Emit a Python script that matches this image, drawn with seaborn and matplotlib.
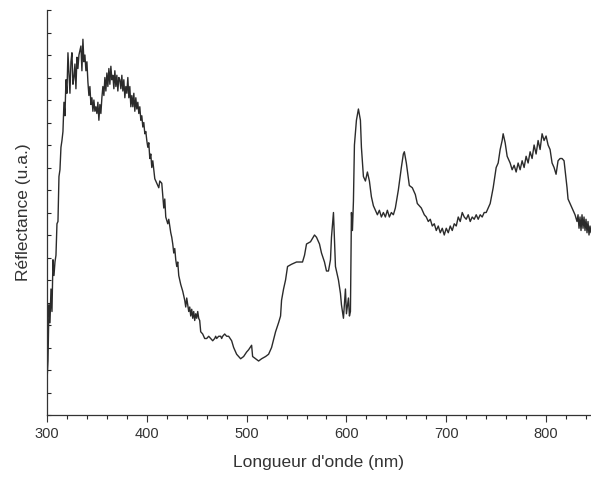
import matplotlib
matplotlib.use("Agg")
import matplotlib.pyplot as plt
from matplotlib.ticker import MultipleLocator, NullFormatter
import seaborn as sns
import pandas as pd

# Spectrum (wavelength in nm, reflectance in arbitrary units)
wavelength = [
    300, 301, 302, 303, 304, 305, 306, 307, 308, 309, 310, 311, 312, 313, 314,
    315, 316, 317, 318, 319, 320, 321, 322, 323, 324, 325, 326, 327, 328, 329,
    330, 331, 332, 333, 334, 335, 336, 337, 338, 339, 340, 341, 342, 343, 344,
    345, 346, 347, 348, 349, 350, 351, 352, 353, 354, 355, 356, 357, 358, 359,
    360, 361, 362, 363, 364, 365, 366, 367, 368, 369, 370, 371, 372, 373, 374,
    375, 376, 377, 378, 379, 380, 381, 382, 383, 384, 385, 386, 387, 388, 389,
    390, 391, 392, 393, 394, 395, 396, 397, 398, 399, 400, 401, 402, 403, 404,
    405, 406, 408, 410, 412, 413, 415, 417, 418, 419, 421, 422, 424, 425, 426,
    427, 428, 429, 430, 431, 432, 434, 436, 438, 439, 440, 441, 442, 443, 444,
    445, 446, 447, 448, 449, 450, 451, 452, 453, 454, 456, 458, 460, 462, 464,
    466, 468, 469, 470, 472, 474, 475, 476, 478, 480, 482, 485, 487, 490, 492,
    494, 497, 500, 502, 505, 506, 509, 512, 515, 519, 522, 525, 529, 532, 534,
    535, 537, 539, 541, 545, 550, 554, 556, 558, 560, 564, 568, 570, 573, 575,
    578, 580, 582, 584, 585, 587, 589, 592, 594, 595, 597, 599, 600, 602, 603,
    604, 605, 606, 607, 608, 610, 612, 614, 615, 617, 619, 621, 623,
    625, 627, 629, 631, 633, 635, 637, 639, 641, 643, 645, 647, 649,
    652, 655, 657, 658, 660, 663, 666, 669, 671, 675, 678,
    680, 682, 684, 686, 688, 690, 692, 694, 696, 698, 700, 702, 704, 706, 708,
    710, 712, 714, 716, 718, 720, 722, 724, 726, 728, 730, 732, 734, 736, 738,
    740, 744, 747, 750, 752, 754, 756, 757, 759, 761,
    764, 766, 768, 770, 772, 774, 776, 778, 780, 782, 784, 786, 788, 790, 792,
    794, 796, 798, 800, 802,
    804, 806, 808, 810, 812, 814, 816, 818, 819, 821, 822, 825, 827,
    829, 831, 832, 833, 834, 835, 836, 837, 838, 839, 840, 841, 842, 843, 844, 845,
]
reflectance = [
    1.5, 2.4, 4.9, 4.1, 5.6, 4.6, 6.9, 6.2, 6.8, 7.1, 8.5, 8.6, 10.6, 10.9, 11.9,
    12.2, 12.6, 13.9, 13.3, 14.9, 14.3, 16.1, 15.2, 14.3, 15.7, 16.1, 14.7, 15.0, 15.6, 14.5,
    15.9, 15.4, 16.0, 16.2, 16.4, 15.3, 16.7, 15.7, 16.0, 15.3, 15.7, 14.8, 14.2, 14.6, 13.8,
    14.1, 13.5, 14.0, 13.5, 13.7, 13.4, 13.9, 13.1, 13.8, 13.4, 14.1, 14.6, 14.2, 15.0, 14.4,
    15.2, 14.6, 15.4, 14.7, 15.5, 14.9, 15.1, 14.5, 15.3, 14.6, 15.1, 14.4, 15.0, 14.9, 14.5,
    15.1, 14.4, 14.9, 14.1, 14.6, 14.3, 15.0, 14.1, 14.6, 13.7, 14.2, 13.7, 14.3, 13.5, 14.1,
    13.6, 13.9, 13.4, 13.7, 13.1, 13.3, 12.8, 13.0, 12.5, 12.6, 12.2, 11.9, 12.1, 11.4, 11.6,
    11.0, 11.3, 10.5, 10.3, 10.1, 10.4, 10.3, 9.2, 9.6, 8.8, 8.5, 8.7, 8.1, 7.9, 7.6,
    7.2, 7.4, 6.9, 6.6, 6.8, 6.2, 5.8, 5.5, 5.1, 4.8, 5.2, 4.9, 4.6, 4.8, 4.4,
    4.7, 4.3, 4.6, 4.2, 4.5, 4.3, 4.6, 4.3, 4.2, 3.7, 3.6, 3.4, 3.4, 3.5, 3.4,
    3.3, 3.4, 3.5, 3.4, 3.5, 3.5, 3.4, 3.5, 3.6, 3.5, 3.5, 3.3, 3.0, 2.7, 2.6,
    2.5, 2.6, 2.8, 2.9, 3.1, 2.6, 2.5, 2.4, 2.5, 2.6, 2.7, 3.0, 3.7, 4.1, 4.4,
    5.1, 5.6, 6.0, 6.6, 6.7, 6.8, 6.8, 6.8, 7.1, 7.6, 7.7, 8.0, 7.9, 7.6, 7.2,
    6.8, 6.4, 6.4, 6.9, 7.9, 9.0, 6.6, 6.0, 5.4, 4.9, 4.3, 5.6, 4.5, 5.2, 4.4,
    4.6, 9.0, 8.2, 9.5, 12.0, 13.1, 13.6, 13.1, 11.9, 10.6, 10.4, 10.8, 10.4,
    9.7, 9.3, 9.1, 8.9, 9.1, 8.8, 9.0, 8.8, 9.1, 8.8, 9.0, 8.9, 9.2,
    10.0, 11.0, 11.6, 11.7, 11.2, 10.2, 10.1, 9.8, 9.4, 9.2, 8.9,
    8.8, 8.6, 8.7, 8.4, 8.5, 8.2, 8.4, 8.1, 8.3, 8.0, 8.3, 8.1, 8.4, 8.2, 8.5,
    8.4, 8.8, 8.6, 9.0, 8.8, 8.7, 8.9, 8.6, 8.8, 8.7, 8.9, 8.7, 8.9, 8.8, 9.0,
    9.0, 9.4, 10.1, 11.0, 11.2, 11.8, 12.2, 12.5, 12.1, 11.5,
    11.2, 10.9, 11.1, 10.8, 11.2, 10.9, 11.3, 11.0, 11.5, 11.2, 11.7, 11.4, 12.0, 11.6, 12.2,
    11.8, 12.5, 12.2, 12.4, 12.0,
    11.8, 11.2, 11.0, 10.7, 11.3, 11.4, 11.4, 11.3, 10.9, 10.1, 9.6, 9.3, 9.1,
    8.9, 8.6, 8.9, 8.3, 8.8, 8.2, 8.9, 8.3, 8.8, 8.2, 8.7, 8.1, 8.6, 8.0, 8.4, 8.1,
]

xticks = [300, 400, 500, 600, 700, 800]

df = pd.DataFrame({"wavelength": wavelength, "reflectance": reflectance})

sns.set_style("ticks")
plt.rcParams["font.family"] = ["Liberation Sans", "DejaVu Sans"]

fig = plt.figure(figsize=(5.91, 4.79), dpi=100)
ax = fig.add_axes([0.0795, 0.1336, 0.9205, 0.8455])

sns.lineplot(data=df, x="wavelength", y="reflectance", ax=ax,
             color="#2b2b2b", linewidth=1.0, estimator=None, sort=False)

ax.set_xlim(300, 845)
ax.set_ylim(0, 18)
ax.set_xticks(xticks)
ax.xaxis.set_minor_locator(MultipleLocator(20))
ax.yaxis.set_major_locator(MultipleLocator(1))
ax.yaxis.set_major_formatter(NullFormatter())

ax.tick_params(axis="x", which="major", direction="out", length=5, width=0.8,
               labelsize=10.5, colors="#333333")
ax.tick_params(axis="x", which="minor", direction="out", length=3, width=0.8)
ax.tick_params(axis="y", which="major", direction="in", length=3, width=0.8)

for side in ["top", "right"]:
    ax.spines[side].set_visible(False)
for side in ["left", "bottom"]:
    ax.spines[side].set_linewidth(0.9)
    ax.spines[side].set_color("#333333")

ax.set_xlabel("Longueur d'onde (nm)", fontsize=12.5, color="#333333", labelpad=10)
ax.set_ylabel("Réflectance (u.a.)", fontsize=12.5, color="#333333", labelpad=8)

fig.savefig("out.png", dpi=100)
